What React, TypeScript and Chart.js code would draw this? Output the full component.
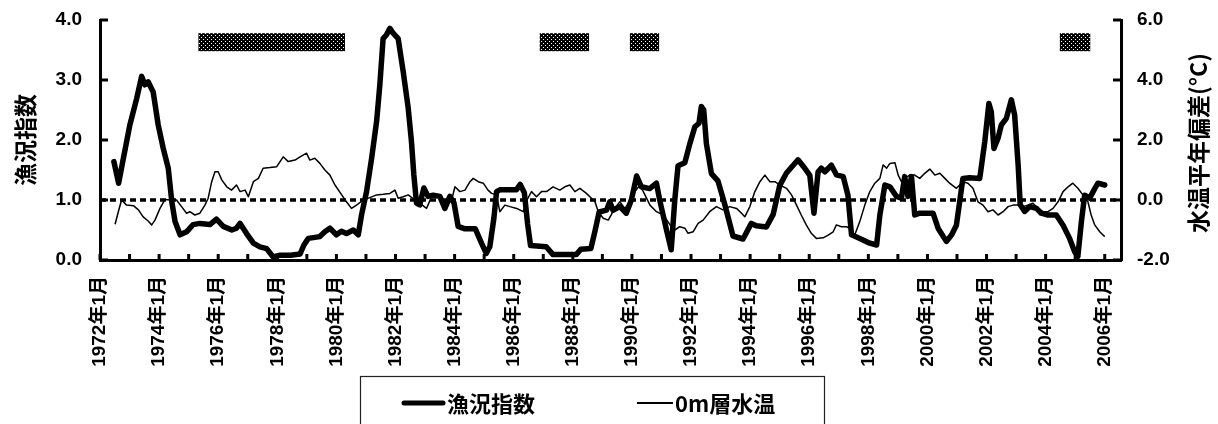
import React, { useEffect, useRef } from 'react';
import { Chart, registerables } from 'chart.js';

Chart.register(...registerables);

// 漁況指数 (left axis) — decimal year / value
const fishYears = [
  1972.47, 1972.63, 1972.79, 1973.01, 1973.24, 1973.41, 1973.52, 1973.63, 1973.80, 1973.97,
  1974.14, 1974.31, 1974.43, 1974.54, 1974.71, 1974.93, 1975.15, 1975.38, 1975.72, 1975.94,
  1976.17, 1976.46, 1976.62, 1976.74, 1976.96, 1977.19, 1977.41, 1977.64, 1977.86, 1978.10,
  1978.45, 1978.77, 1978.90, 1979.05, 1979.44, 1979.61, 1979.78, 1980.00, 1980.17, 1980.34,
  1980.57, 1980.74, 1980.85, 1981.02, 1981.19, 1981.36, 1981.47, 1981.58, 1981.69, 1981.81,
  1981.92, 1982.09, 1982.26, 1982.43, 1982.54, 1982.62, 1982.71, 1982.82, 1982.96, 1983.10,
  1983.27, 1983.50, 1983.67, 1983.84, 1983.98, 1984.12, 1984.35, 1984.70, 1984.91, 1985.07,
  1985.19, 1985.33, 1985.42, 1985.53, 1986.09, 1986.22, 1986.36, 1986.47, 1986.57, 1987.10,
  1987.33, 1988.12, 1988.27, 1988.61, 1988.75, 1988.89, 1989.14, 1989.25, 1989.36, 1989.59,
  1989.81, 1989.98, 1990.16, 1990.32, 1990.60, 1990.83, 1990.94, 1991.17, 1991.33, 1991.45,
  1991.56, 1991.79, 1991.96, 1992.13, 1992.27, 1992.35, 1992.43, 1992.52, 1992.69, 1992.91,
  1993.14, 1993.42, 1993.76, 1994.04, 1994.21, 1994.55, 1994.78, 1995.00, 1995.23, 1995.62,
  1995.85, 1996.02, 1996.16, 1996.30, 1996.41, 1996.53, 1996.75, 1996.92, 1997.15, 1997.31,
  1997.43, 1997.71, 1998.05, 1998.28, 1998.39, 1998.56, 1998.73, 1998.95, 1999.12, 1999.23,
  1999.34, 1999.46, 1999.57, 1999.74, 2000.19, 2000.36, 2000.64, 2000.82, 2000.98, 2001.09,
  2001.20, 2001.43, 2001.77, 2001.94, 2002.08, 2002.16, 2002.25, 2002.39, 2002.50, 2002.67,
  2002.84, 2002.95, 2003.07, 2003.14, 2003.29, 2003.46, 2003.69, 2003.85, 2004.08, 2004.36,
  2004.59, 2004.81, 2004.98, 2005.09, 2005.21, 2005.32, 2005.49, 2005.66, 2005.77, 2006.00,
];
const fishIndex = [
  1.64, 1.28, 1.69, 2.25, 2.69, 3.06, 2.92, 2.97, 2.80, 2.25,
  1.86, 1.53, 0.97, 0.64, 0.42, 0.47, 0.59, 0.61, 0.59, 0.68,
  0.56, 0.50, 0.53, 0.61, 0.44, 0.28, 0.22, 0.19, 0.05, 0.08,
  0.08, 0.10, 0.25, 0.36, 0.39, 0.47, 0.53, 0.42, 0.48, 0.44,
  0.50, 0.42, 0.75, 1.14, 1.69, 2.31, 2.92, 3.69, 3.75, 3.86,
  3.78, 3.69, 3.14, 2.53, 1.97, 1.42, 0.95, 0.92, 1.20, 1.06,
  1.08, 1.06, 0.86, 1.06, 0.95, 0.56, 0.52, 0.52, 0.28, 0.11,
  0.22, 0.70, 1.14, 1.17, 1.17, 1.26, 1.12, 0.60, 0.24, 0.22,
  0.09, 0.09, 0.18, 0.19, 0.48, 0.80, 0.83, 0.97, 0.83, 0.89,
  0.78, 1.00, 1.40, 1.22, 1.19, 1.28, 1.00, 0.50, 0.17, 1.00,
  1.57, 1.62, 1.94, 2.22, 2.28, 2.56, 2.50, 1.94, 1.44, 1.32,
  0.93, 0.40, 0.35, 0.61, 0.57, 0.55, 0.76, 1.24, 1.45, 1.67,
  1.53, 1.41, 0.78, 1.47, 1.53, 1.47, 1.58, 1.42, 1.39, 1.08,
  0.42, 0.36, 0.28, 0.25, 0.75, 1.25, 1.22, 1.06, 1.03, 1.39,
  1.06, 1.39, 0.75, 0.78, 0.78, 0.53, 0.31, 0.42, 0.58, 0.97,
  1.36, 1.37, 1.36, 1.97, 2.61, 2.47, 1.86, 2.03, 2.25, 2.36,
  2.67, 2.42, 1.58, 0.92, 0.81, 0.89, 0.86, 0.78, 0.75, 0.75,
  0.58, 0.36, 0.14, 0.06, 0.64, 1.08, 1.03, 1.19, 1.28, 1.25,
];

// 0m層水温 anomaly (right axis, °C)
const tempYears = [
  1972.51, 1972.62, 1972.73, 1972.90, 1973.13, 1973.30, 1973.46, 1973.63, 1973.75, 1973.86,
  1974.03, 1974.20, 1974.37, 1974.59, 1974.76, 1974.93, 1975.04, 1975.21, 1975.38, 1975.55,
  1975.66, 1975.78, 1975.89, 1976.00, 1976.12, 1976.29, 1976.45, 1976.62, 1976.74, 1976.91,
  1977.02, 1977.19, 1977.36, 1977.52, 1977.75, 1977.98, 1978.20, 1978.37, 1978.60, 1978.77,
  1978.99, 1979.10, 1979.27, 1979.44, 1979.61, 1979.78, 1979.95, 1980.18, 1980.34, 1980.51,
  1980.68, 1980.91, 1981.13, 1981.36, 1981.58, 1981.81, 1981.98, 1982.09, 1982.26, 1982.43,
  1982.66, 1982.83, 1983.05, 1983.22, 1983.39, 1983.50, 1983.73, 1983.90, 1984.01, 1984.18,
  1984.35, 1984.52, 1984.63, 1984.80, 1984.97, 1985.13, 1985.25, 1985.42, 1985.53, 1985.70,
  1985.87, 1986.10, 1986.32, 1986.45, 1986.60, 1986.77, 1986.94, 1987.11, 1987.33, 1987.56,
  1987.73, 1987.90, 1988.07, 1988.24, 1988.46, 1988.63, 1988.75, 1988.86, 1989.03, 1989.20,
  1989.42, 1989.59, 1989.76, 1989.93, 1990.10, 1990.27, 1990.44, 1990.61, 1990.83, 1991.06,
  1991.29, 1991.45, 1991.62, 1991.79, 1991.90, 1992.07, 1992.24, 1992.41, 1992.63, 1992.86,
  1993.08, 1993.31, 1993.54, 1993.71, 1993.82, 1993.99, 1994.16, 1994.33, 1994.50, 1994.67,
  1994.84, 1995.00, 1995.23, 1995.40, 1995.57, 1995.73, 1995.90, 1996.07, 1996.24, 1996.47,
  1996.64, 1996.81, 1996.92, 1997.09, 1997.26, 1997.37, 1997.54, 1997.71, 1997.88, 1998.05,
  1998.22, 1998.39, 1998.50, 1998.62, 1998.73, 1998.90, 1999.01, 1999.12, 1999.23, 1999.40,
  1999.57, 1999.74, 1999.91, 2000.08, 2000.25, 2000.42, 2000.59, 2000.75, 2000.98, 2001.20,
  2001.37, 2001.54, 2001.71, 2001.88, 2002.05, 2002.22, 2002.39, 2002.56, 2002.73, 2002.90,
  2003.07, 2003.23, 2003.40, 2003.57, 2003.74, 2003.91, 2004.08, 2004.25, 2004.42, 2004.59,
  2004.76, 2004.92, 2005.09, 2005.26, 2005.43, 2005.54, 2005.66, 2005.83, 2006.00,
];
const tempAnomaly = [
  -0.81, -0.39, 0.00, -0.17, -0.19, -0.33, -0.56, -0.70, -0.83, -0.67,
  -0.28, 0.02, 0.00, 0.00, -0.22, -0.44, -0.39, -0.50, -0.44, -0.17,
  0.06, 0.61, 0.94, 0.94, 0.67, 0.44, 0.33, 0.50, 0.28, 0.33,
  0.11, 0.61, 0.72, 1.06, 1.08, 1.11, 1.44, 1.28, 1.33, 1.44,
  1.56, 1.33, 1.39, 1.22, 1.00, 0.83, 0.50, 0.17, -0.06, -0.28,
  -0.17, 0.00, 0.08, 0.17, 0.19, 0.22, 0.33, 0.06, 0.11, 0.17,
  0.00, -0.11, -0.28, 0.11, 0.11, 0.08, -0.17, 0.00, 0.44, 0.28,
  0.33, 0.61, 0.72, 0.61, 0.56, 0.33, 0.22, 0.17, -0.39, -0.17,
  -0.22, -0.28, -0.39, 0.00, 0.28, 0.11, 0.28, 0.28, 0.44, 0.33,
  0.44, 0.50, 0.28, 0.39, 0.22, 0.06, -0.06, -0.39, -0.61, -0.67,
  -0.28, -0.06, -0.28, -0.06, 0.28, 0.50, 0.17, -0.17, -0.39, -0.50,
  -0.83, -1.00, -0.89, -0.94, -1.11, -1.06, -0.78, -0.67, -0.39, -0.22,
  -0.33, -0.22, -0.28, -0.44, -0.56, -0.22, 0.28, 0.61, 0.83, 0.61,
  0.61, 0.50, 0.39, 0.17, -0.17, -0.50, -0.83, -1.11, -1.28, -1.26,
  -1.17, -1.06, -0.83, -0.89, -0.89, -0.94, -1.17, -0.72, -0.17, 0.28,
  0.56, 0.72, 1.17, 1.06, 1.22, 1.24, 0.83, 0.61, 0.72, 0.83,
  0.83, 0.72, 0.89, 1.03, 0.83, 0.89, 0.72, 0.56, 0.39, 0.61,
  0.56, 0.39, -0.06, -0.17, -0.39, -0.33, -0.50, -0.39, -0.22, -0.17,
  -0.17, -0.22, -0.17, -0.11, -0.28, -0.39, -0.39, -0.28, -0.06, 0.28,
  0.44, 0.56, 0.39, 0.17, -0.06, -0.50, -0.83, -1.06, -1.22,
];

// shaded periods at top of chart (decimal years) and their vertical extent (left axis)
const periodStart = [1975.33, 1986.88, 1989.93, 2004.48];
const periodEnd = [1980.29, 1988.55, 1990.92, 2005.51];
const periodBand = [3.48, 3.78];

const yearTicks = [
  1972, 1973, 1974, 1975, 1976, 1977, 1978, 1979, 1980, 1981, 1982, 1983,
  1984, 1985, 1986, 1987, 1988, 1989, 1990, 1991, 1992, 1993, 1994, 1995,
  1996, 1997, 1998, 1999, 2000, 2001, 2002, 2003, 2004, 2005, 2006,
];
const labelYears = [1972, 1974, 1976, 1978, 1980, 1982, 1984, 1986, 1988, 1990, 1992, 1994, 1996, 1998, 2000, 2002, 2004, 2006];
const xTickLabels = [
  '1972年1月', '1974年1月', '1976年1月', '1978年1月', '1980年1月', '1982年1月',
  '1984年1月', '1986年1月', '1988年1月', '1990年1月', '1992年1月', '1994年1月',
  '1996年1月', '1998年1月', '2000年1月', '2002年1月', '2004年1月', '2006年1月',
];
const leftTicks = [0, 1, 2, 3, 4];
const rightTicks = [-2, 0, 2, 4, 6];
const seriesNames = ['漁況指数', '0m層水温'];
const axisTitles = ['漁況指数', '水温平年偏差(°C)'];

const LATIN = '"Liberation Sans", Arial, "Noto Sans CJK JP", sans-serif';
const CJK = '"Noto Sans CJK JP", "Noto Sans CJK SC", sans-serif';

function makePattern(ctx: CanvasRenderingContext2D): CanvasPattern | string {
  const c = document.createElement('canvas');
  c.width = 4;
  c.height = 4;
  const p = c.getContext('2d');
  if (!p) return '#222';
  p.fillStyle = '#000';
  p.fillRect(0, 0, 4, 4);
  p.fillStyle = '#fff';
  p.fillRect(1, 1, 1, 1);
  p.fillRect(3, 3, 1, 1);
  return ctx.createPattern(c, 'repeat') || '#222';
}

export default function App() {
  const ref = useRef<HTMLCanvasElement | null>(null);

  useEffect(() => {
    const canvas = ref.current;
    if (!canvas) return;
    const ctx0 = canvas.getContext('2d');
    if (!ctx0) return;
    const pattern = makePattern(ctx0);

    const decor = {
      id: 'decor',
      beforeDatasetsDraw(chart: any) {
        const { ctx, chartArea: a, scales } = chart;
        const xs = scales.x;
        const ys = scales.y;
        ctx.save();
        // shaded periods
        ctx.fillStyle = pattern;
        const yTop = ys.getPixelForValue(periodBand[1]);
        const yBot = ys.getPixelForValue(periodBand[0]);
        for (let i = 0; i < periodStart.length; i++) {
          const x0 = xs.getPixelForValue(periodStart[i]);
          const x1 = xs.getPixelForValue(periodEnd[i]);
          ctx.fillRect(x0, yTop, x1 - x0, yBot - yTop);
        }
        // dotted reference line at 漁況指数 = 1.0 (水温偏差 = 0.0)
        const yy = ys.getPixelForValue(1);
        ctx.strokeStyle = '#000';
        ctx.lineWidth = 3.5;
        ctx.setLineDash([6, 4]);
        ctx.beginPath();
        ctx.moveTo(a.left, yy);
        ctx.lineTo(a.right, yy);
        ctx.stroke();
        ctx.restore();
      },
      afterDraw(chart: any) {
        const { ctx, chartArea: a, scales } = chart;
        ctx.save();
        ctx.strokeStyle = '#000';
        ctx.lineWidth = 3;
        ctx.setLineDash([]);
        // inside tick marks
        ctx.beginPath();
        for (const t of scales.x.ticks) {
          const px = scales.x.getPixelForValue(t.value);
          ctx.moveTo(px, a.bottom);
          ctx.lineTo(px, a.bottom - 6);
        }
        for (const t of scales.y.ticks) {
          const py = scales.y.getPixelForValue(t.value);
          ctx.moveTo(a.left, py);
          ctx.lineTo(a.left + 8, py);
        }
        for (const t of scales.y2.ticks) {
          const py = scales.y2.getPixelForValue(t.value);
          ctx.moveTo(a.right, py);
          ctx.lineTo(a.right - 8, py);
        }
        ctx.stroke();

        // axis titles (both read bottom-to-top)
        ctx.fillStyle = '#000';
        ctx.textAlign = 'center';
        ctx.textBaseline = 'middle';
        ctx.font = `bold 23px ${CJK}`;
        const midY = (a.top + a.bottom) / 2;
        ctx.save();
        ctx.translate(25, midY);
        ctx.rotate(-Math.PI / 2);
        ctx.fillText(axisTitles[0], 0, 0);
        ctx.restore();
        ctx.save();
        ctx.translate(1198, midY + 3);
        ctx.rotate(-Math.PI / 2);
        ctx.fillText(axisTitles[1], 0, 0);
        ctx.restore();

        // legend box
        ctx.lineWidth = 1.2;
        ctx.strokeStyle = '#222';
        ctx.strokeRect(360.5, 376.5, 464, 80);
        const ly = 403;
        const ds = chart.data.datasets;
        const items = [
          { x0: 404, x1: 443, tx: 447 },
          { x0: 637, x1: 673, tx: 675 },
        ];
        ctx.font = `bold 22px ${CJK}`;
        ctx.textAlign = 'left';
        ctx.textBaseline = 'middle';
        items.forEach((it, i) => {
          ctx.strokeStyle = ds[i].borderColor;
          ctx.lineWidth = i === 0 ? 5 : 2;
          ctx.lineCap = i === 0 ? 'round' : 'butt';
          ctx.beginPath();
          ctx.moveTo(it.x0, ly);
          ctx.lineTo(it.x1, ly);
          ctx.stroke();
          ctx.fillStyle = '#000';
          ctx.fillText(ds[i].label, it.tx, ly + 1);
        });
        ctx.restore();
      },
    };

    const tickFont = { family: LATIN, size: 19, weight: 'bold' as const };

    const chart = new Chart(canvas, {
      type: 'line',
      data: {
        datasets: [
          {
            label: seriesNames[0],
            data: fishYears.map((x, i) => ({ x, y: fishIndex[i] })),
            yAxisID: 'y',
            borderColor: '#000',
            borderWidth: 5.5,
            pointRadius: 0,
            tension: 0,
            fill: false,
            borderJoinStyle: 'round',
            borderCapStyle: 'round',
          },
          {
            label: seriesNames[1],
            data: tempYears.map((x, i) => ({ x, y: tempAnomaly[i] })),
            yAxisID: 'y2',
            borderColor: '#000',
            borderWidth: 1.5,
            pointRadius: 0,
            tension: 0,
            fill: false,
            borderJoinStyle: 'round',
          },
        ],
      },
      options: {
        animation: false,
        responsive: false,
        events: [],
        layout: { padding: { top: 20, left: 0, right: 0, bottom: 0 } },
        plugins: {
          legend: { display: false },
          tooltip: { enabled: false },
          title: { display: false },
        },
        scales: {
          x: {
            type: 'linear',
            min: 1972,
            max: 2006.55,
            afterBuildTicks: (s: any) => {
              s.ticks = yearTicks.map((v) => ({ value: v }));
            },
            afterFit: (s: any) => {
              s.height = 164;
            },
            grid: { display: false, drawTicks: false },
            border: { display: true, color: '#000', width: 3 },
            ticks: {
              autoSkip: false,
              maxRotation: 90,
              minRotation: 90,
              padding: 16,
              color: '#000',
              font: tickFont,
              callback: (v: any) => {
                const i = labelYears.indexOf(Number(v));
                return i >= 0 ? xTickLabels[i] : '';
              },
            },
          },
          y: {
            type: 'linear',
            position: 'left',
            min: 0,
            max: 4,
            afterBuildTicks: (s: any) => {
              s.ticks = leftTicks.map((v) => ({ value: v }));
            },
            afterFit: (s: any) => {
              s.width = 100;
              s.paddingTop = 0;
              s.paddingBottom = 0;
            },
            grid: { display: false, drawTicks: false },
            border: { display: true, color: '#000', width: 3 },
            ticks: {
              padding: 18,
              color: '#000',
              font: tickFont,
              callback: (v: any) => Number(v).toFixed(1),
            },
          },
          y2: {
            type: 'linear',
            position: 'right',
            min: -2,
            max: 6,
            afterBuildTicks: (s: any) => {
              s.ticks = rightTicks.map((v) => ({ value: v }));
            },
            afterFit: (s: any) => {
              s.width = 97;
              s.paddingTop = 0;
              s.paddingBottom = 0;
            },
            grid: { display: false, drawTicks: false },
            border: { display: true, color: '#000', width: 3 },
            ticks: {
              padding: 16,
              color: '#000',
              font: tickFont,
              callback: (v: any) => Number(v).toFixed(1),
            },
          },
        },
      },
      plugins: [decor],
    } as any);

    return () => {
      chart.destroy();
    };
  }, []);

  return (
    <div style={{ position: 'absolute', left: 0, top: 0, width: 1218, height: 424, background: '#fff' }}>
      <canvas ref={ref} width={1218} height={424} style={{ display: 'block', width: 1218, height: 424 }} />
    </div>
  );
}
